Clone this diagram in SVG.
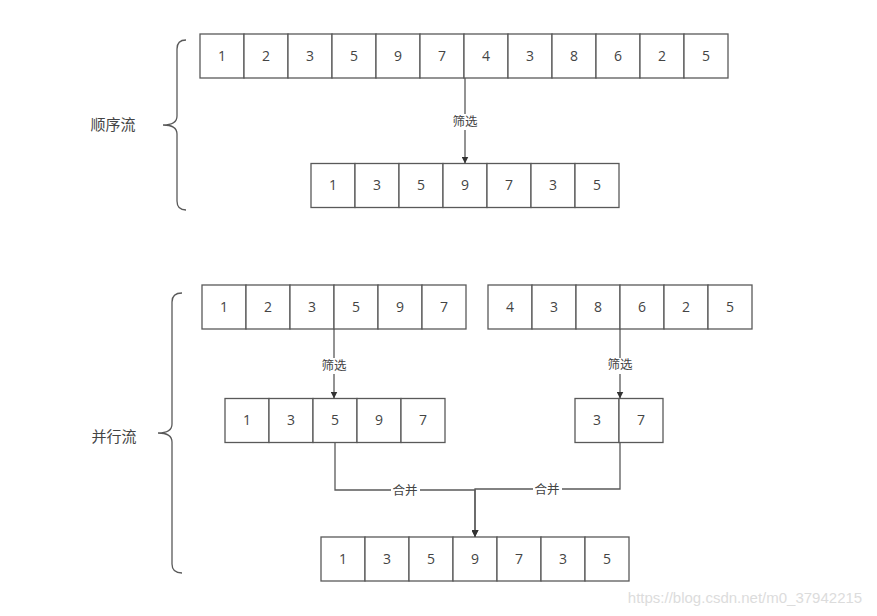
<svg xmlns="http://www.w3.org/2000/svg" width="877" height="616" viewBox="0 0 877 616">
<defs>
<style>
.c rect{fill:#fff;stroke:#595959;stroke-width:1.3}
.c text,.t{font-family:"Open Sans","Liberation Sans","Noto Sans CJK SC",sans-serif;font-size:14px;fill:#444;text-anchor:middle}
.e{fill:none;stroke:#595959;stroke-width:1.3}
.lbl{font-family:"Noto Sans CJK SC","Liberation Sans",sans-serif;font-size:12.5px;fill:#444;text-anchor:middle}
.lb{fill:#fff}
.br{fill:none;stroke:#595959;stroke-width:1.3}
.side{font-family:"Noto Sans CJK SC","Liberation Sans",sans-serif;font-size:15px;fill:#444;text-anchor:middle}
</style>
<marker id="ah" viewBox="0 0 10 10" refX="10" refY="5" markerWidth="7" markerHeight="7" markerUnits="userSpaceOnUse" orient="auto">
<path d="M0 0 L10 5 L0 10 Z" fill="#333"/>
</marker>
</defs>
<rect width="877" height="616" fill="#fff"/>

<g id="brace-seq"><path class="br" d="M186 40 Q177 40 177 49 V116 Q177 125 163 125 Q177 125 177 134 V201 Q177 210 186 210"/></g>
<g id="label-seq"><text class="side" x="113" y="125" dy=".35em">顺序流</text></g>
<g id="brace-par"><path class="br" d="M182 293 Q172 293 172 302 V424 Q172 433 158 433 Q172 433 172 442 V564 Q172 573 182 573"/></g>
<g id="label-par"><text class="side" x="114" y="437" dy=".35em">并行流</text></g>

<g id="seq-source" class="c">
<g id="s1"><rect x="200" y="34" width="44" height="44"/><text x="222" y="56" dy=".35em">1</text></g>
<g id="s2"><rect x="244" y="34" width="44" height="44"/><text x="266" y="56" dy=".35em">2</text></g>
<g id="s3"><rect x="288" y="34" width="44" height="44"/><text x="310" y="56" dy=".35em">3</text></g>
<g id="s4"><rect x="332" y="34" width="44" height="44"/><text x="354" y="56" dy=".35em">5</text></g>
<g id="s5"><rect x="376" y="34" width="44" height="44"/><text x="398" y="56" dy=".35em">9</text></g>
<g id="s6"><rect x="420" y="34" width="44" height="44"/><text x="442" y="56" dy=".35em">7</text></g>
<g id="s7"><rect x="464" y="34" width="44" height="44"/><text x="486" y="56" dy=".35em">4</text></g>
<g id="s8"><rect x="508" y="34" width="44" height="44"/><text x="530" y="56" dy=".35em">3</text></g>
<g id="s9"><rect x="552" y="34" width="44" height="44"/><text x="574" y="56" dy=".35em">8</text></g>
<g id="s10"><rect x="596" y="34" width="44" height="44"/><text x="618" y="56" dy=".35em">6</text></g>
<g id="s11"><rect x="640" y="34" width="44" height="44"/><text x="662" y="56" dy=".35em">2</text></g>
<g id="s12"><rect x="684" y="34" width="44" height="44"/><text x="706" y="56" dy=".35em">5</text></g>
</g>

<g id="seq-result" class="c">
<g id="r1"><rect x="311" y="163.5" width="44" height="44"/><text x="333" y="185.5" dy=".35em">1</text></g>
<g id="r2"><rect x="355" y="163.5" width="44" height="44"/><text x="377" y="185.5" dy=".35em">3</text></g>
<g id="r3"><rect x="399" y="163.5" width="44" height="44"/><text x="421" y="185.5" dy=".35em">5</text></g>
<g id="r4"><rect x="443" y="163.5" width="44" height="44"/><text x="465" y="185.5" dy=".35em">9</text></g>
<g id="r5"><rect x="487" y="163.5" width="44" height="44"/><text x="509" y="185.5" dy=".35em">7</text></g>
<g id="r6"><rect x="531" y="163.5" width="44" height="44"/><text x="553" y="185.5" dy=".35em">3</text></g>
<g id="r7"><rect x="575" y="163.5" width="44" height="44"/><text x="597" y="185.5" dy=".35em">5</text></g>
</g>

<g id="par-left" class="c">
<g id="pl1"><rect x="202" y="285" width="44" height="44"/><text x="224" y="307" dy=".35em">1</text></g>
<g id="pl2"><rect x="246" y="285" width="44" height="44"/><text x="268" y="307" dy=".35em">2</text></g>
<g id="pl3"><rect x="290" y="285" width="44" height="44"/><text x="312" y="307" dy=".35em">3</text></g>
<g id="pl4"><rect x="334" y="285" width="44" height="44"/><text x="356" y="307" dy=".35em">5</text></g>
<g id="pl5"><rect x="378" y="285" width="44" height="44"/><text x="400" y="307" dy=".35em">9</text></g>
<g id="pl6"><rect x="422" y="285" width="44" height="44"/><text x="444" y="307" dy=".35em">7</text></g>
</g>

<g id="par-right" class="c">
<g id="pr1"><rect x="488" y="285" width="44" height="44"/><text x="510" y="307" dy=".35em">4</text></g>
<g id="pr2"><rect x="532" y="285" width="44" height="44"/><text x="554" y="307" dy=".35em">3</text></g>
<g id="pr3"><rect x="576" y="285" width="44" height="44"/><text x="598" y="307" dy=".35em">8</text></g>
<g id="pr4"><rect x="620" y="285" width="44" height="44"/><text x="642" y="307" dy=".35em">6</text></g>
<g id="pr5"><rect x="664" y="285" width="44" height="44"/><text x="686" y="307" dy=".35em">2</text></g>
<g id="pr6"><rect x="708" y="285" width="44" height="44"/><text x="730" y="307" dy=".35em">5</text></g>
</g>

<g id="filt-left" class="c">
<g id="fl1"><rect x="225" y="398.5" width="44" height="44"/><text x="247" y="420.5" dy=".35em">1</text></g>
<g id="fl2"><rect x="269" y="398.5" width="44" height="44"/><text x="291" y="420.5" dy=".35em">3</text></g>
<g id="fl3"><rect x="313" y="398.5" width="44" height="44"/><text x="335" y="420.5" dy=".35em">5</text></g>
<g id="fl4"><rect x="357" y="398.5" width="44" height="44"/><text x="379" y="420.5" dy=".35em">9</text></g>
<g id="fl5"><rect x="401" y="398.5" width="44" height="44"/><text x="423" y="420.5" dy=".35em">7</text></g>
</g>

<g id="filt-right" class="c">
<g id="fr1"><rect x="575" y="398.5" width="44" height="44"/><text x="597" y="420.5" dy=".35em">3</text></g>
<g id="fr2"><rect x="619" y="398.5" width="44" height="44"/><text x="641" y="420.5" dy=".35em">7</text></g>
</g>

<g id="merged" class="c">
<g id="m1"><rect x="321" y="537" width="44" height="44"/><text x="343" y="559" dy=".35em">1</text></g>
<g id="m2"><rect x="365" y="537" width="44" height="44"/><text x="387" y="559" dy=".35em">3</text></g>
<g id="m3"><rect x="409" y="537" width="44" height="44"/><text x="431" y="559" dy=".35em">5</text></g>
<g id="m4"><rect x="453" y="537" width="44" height="44"/><text x="475" y="559" dy=".35em">9</text></g>
<g id="m5"><rect x="497" y="537" width="44" height="44"/><text x="519" y="559" dy=".35em">7</text></g>
<g id="m6"><rect x="541" y="537" width="44" height="44"/><text x="563" y="559" dy=".35em">3</text></g>
<g id="m7"><rect x="585" y="537" width="44" height="44"/><text x="607" y="559" dy=".35em">5</text></g>
</g>

<g id="connectors">
<path class="e" d="M465 78 V163.5" marker-end="url(#ah)"/>
<path class="e" d="M334 329 V398.5" marker-end="url(#ah)"/>
<path class="e" d="M620 329 V398.5" marker-end="url(#ah)"/>
<path class="e" d="M335 442.5 V490 H475 V537" marker-end="url(#ah)"/>
<path class="e" d="M620 442.5 V489 H475 V537" marker-end="url(#ah)"/>
<rect class="lb" x="450" y="114" width="30" height="16"/>
<text class="lbl" x="465" y="122" dy=".35em">筛选</text>
<rect class="lb" x="319" y="358" width="30" height="16"/>
<text class="lbl" x="334" y="366" dy=".35em">筛选</text>
<rect class="lb" x="605" y="358" width="30" height="16"/>
<text class="lbl" x="620" y="365" dy=".35em">筛选</text>
<rect class="lb" x="391" y="483" width="29" height="15"/>
<text class="lbl" x="405" y="491" dy=".35em">合并</text>
<rect class="lb" x="533" y="482" width="29" height="15"/>
<text class="lbl" x="547" y="490" dy=".35em">合并</text>
</g>

<text x="745" y="598" dy=".35em" style="font-family:'Liberation Sans',sans-serif;font-size:15px;fill:#dcdcdc;text-anchor:middle">https://blog.csdn.net/m0_37942215</text>
</svg>
